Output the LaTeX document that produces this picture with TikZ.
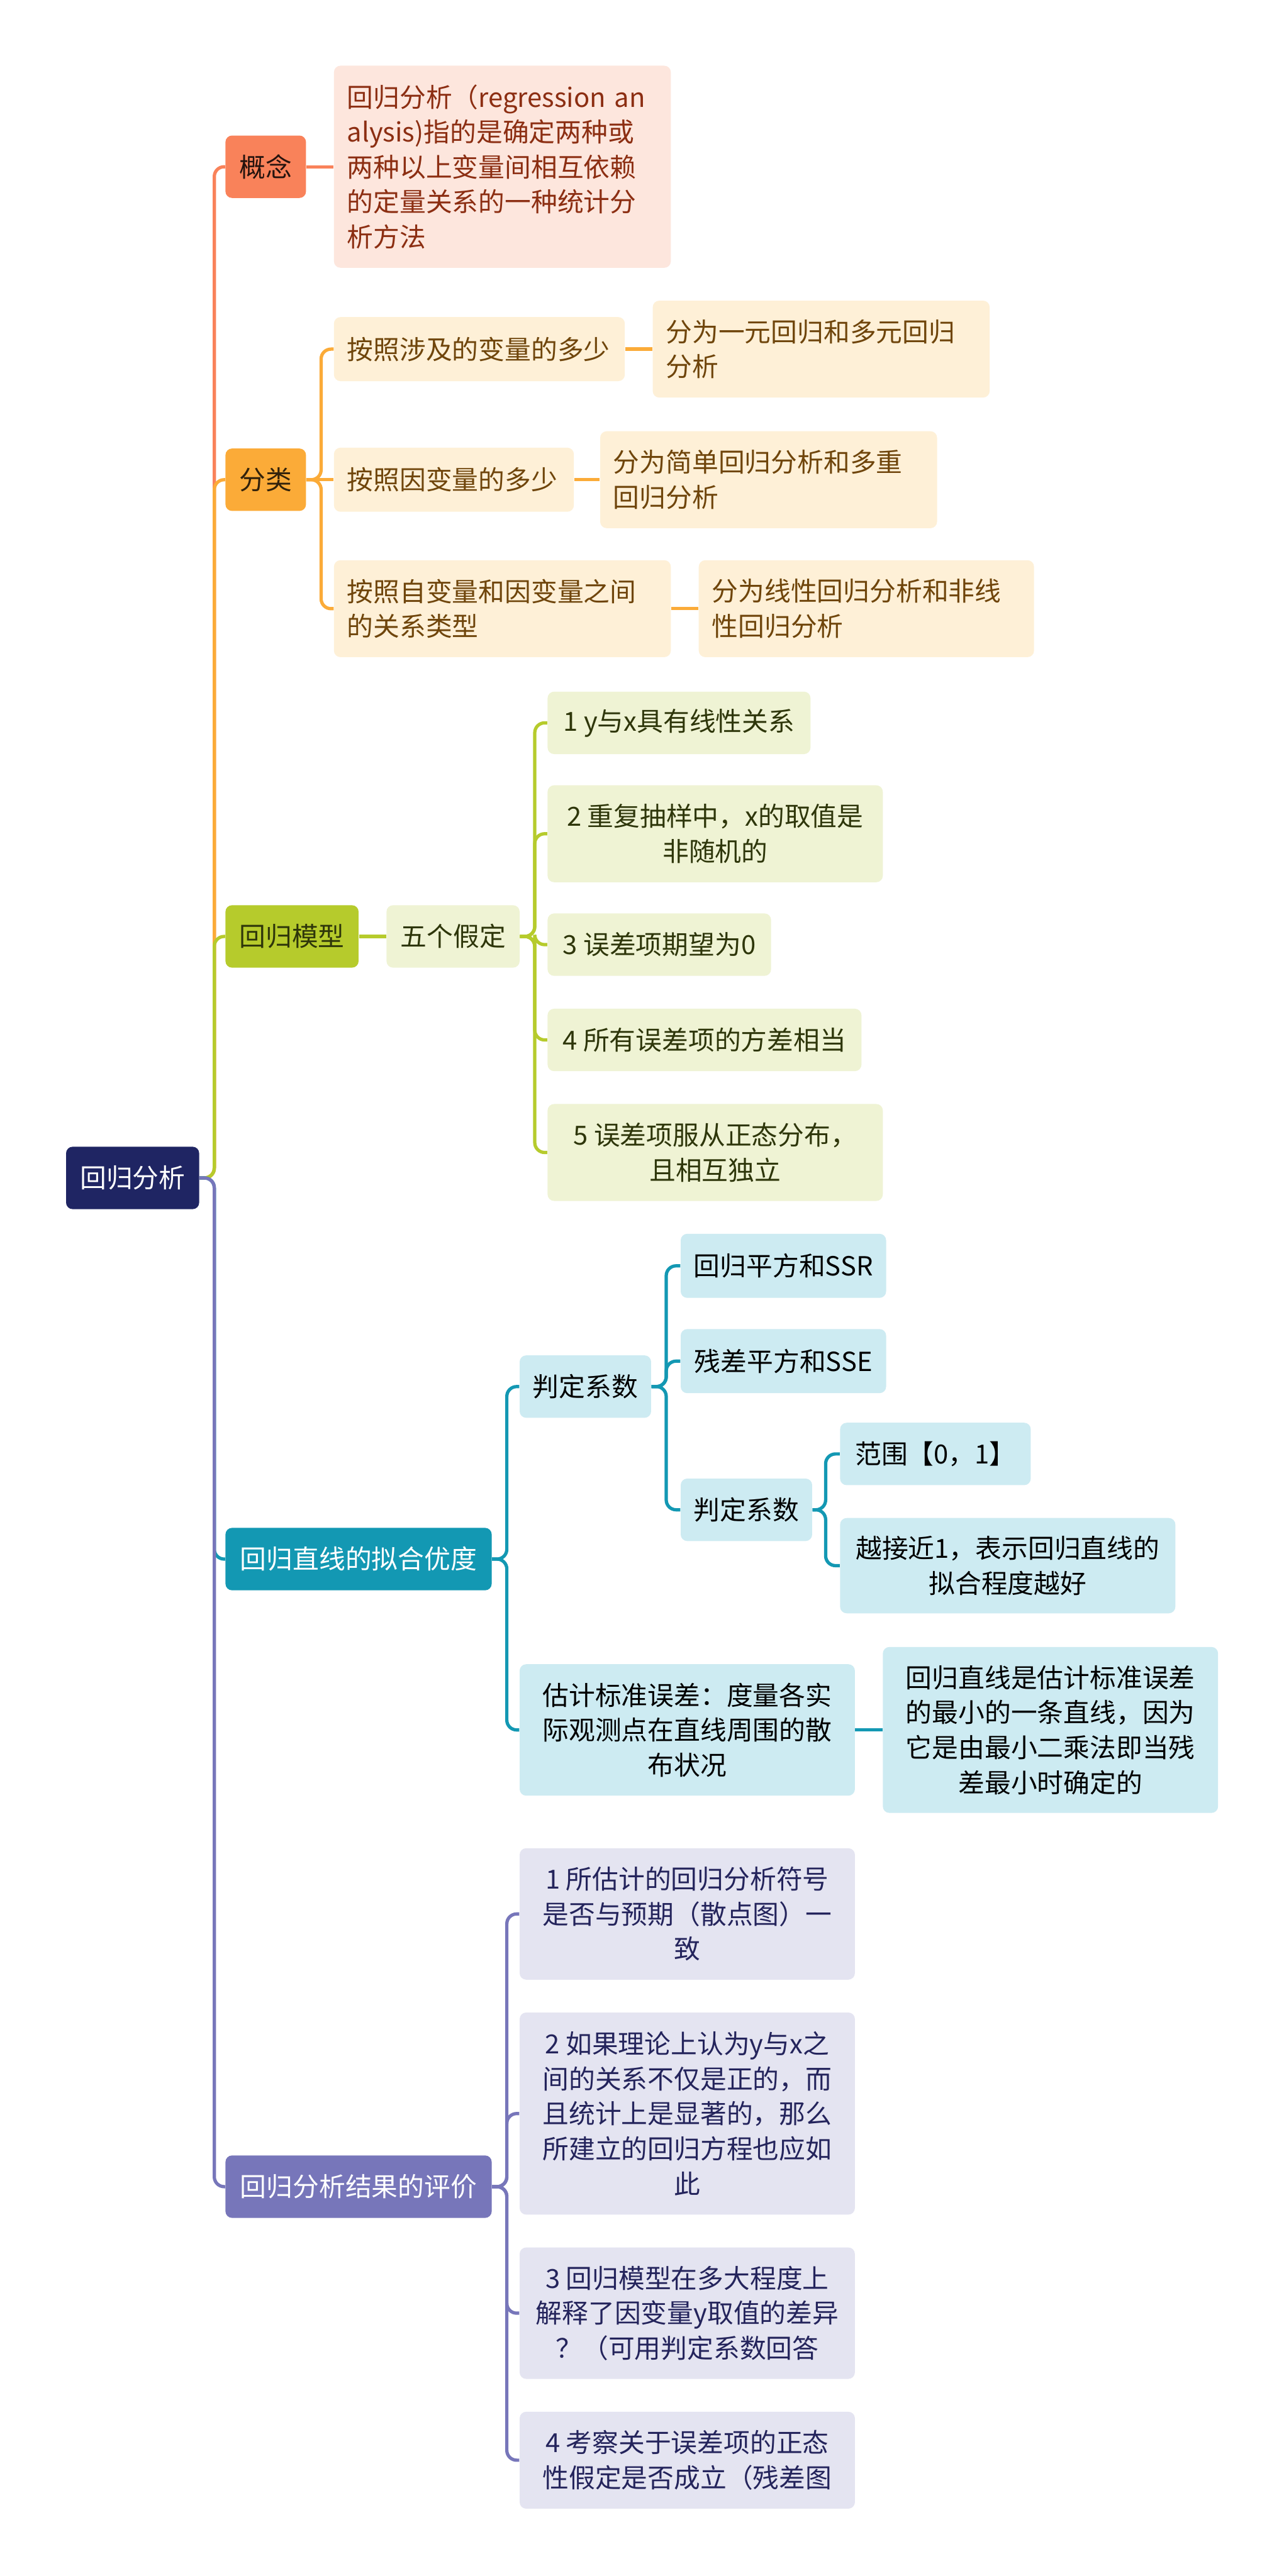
\documentclass[tikz,border=0pt]{standalone}
\usepackage{fontspec}
\setmainfont{Noto Sans CJK SC}
\definecolor{croot}{HTML}{1F2563}
\definecolor{ccoral}{HTML}{F9825A}
\definecolor{ccoralL}{HTML}{FDE6DD}
\definecolor{ccoralT}{HTML}{8C2E12}
\definecolor{corange}{HTML}{FBAB38}
\definecolor{corangeL}{HTML}{FEF0D7}
\definecolor{corangeT}{HTML}{6F450B}
\definecolor{cgreen}{HTML}{B6CB2C}
\definecolor{cgreenL}{HTML}{EFF3D4}
\definecolor{cgreenT}{HTML}{2E360A}
\definecolor{cteal}{HTML}{1398B3}
\definecolor{ctealL}{HTML}{CDEBF2}
\definecolor{cpurple}{HTML}{7776BA}
\definecolor{cpurpleL}{HTML}{E4E4F1}
\definecolor{cpurpleT}{HTML}{24245C}
\tikzset{
  mbox/.style={rounded corners=4pt, align=center, inner sep=0pt, anchor=west,
               font=\fontsize{16}{21.3}\selectfont},
  sz/.style 2 args={minimum width=#1pt, minimum height=#2pt},
  szl/.style 2 args={text width=#1pt, minimum height=#2pt, inner xsep=8pt},
  nroot/.style={mbox, fill=croot, text=white},
  ncoral/.style={mbox, fill=ccoral, text=black!85!ccoral},
  ncoralL/.style={mbox, fill=ccoralL, text=ccoralT, align=left},
  norange/.style={mbox, fill=corange, text=black!80!corange},
  norangeL/.style={mbox, fill=corangeL, text=corangeT, align=left},
  ngreen/.style={mbox, fill=cgreen, text=cgreenT},
  ngreenL/.style={mbox, fill=cgreenL, text=cgreenT},
  nteal/.style={mbox, fill=cteal, text=white},
  ntealL/.style={mbox, fill=ctealL, text=black},
  npurple/.style={mbox, fill=cpurple, text=white},
  npurpleL/.style={mbox, fill=cpurpleL, text=cpurpleT},
  link/.style={line width=2pt, rounded corners=6pt},
}
\begin{document}
\begin{tikzpicture}[x=1pt, y=-1pt]
  \fill[white] (0,0) rectangle (781,1568);
  \useasboundingbox (0,0) rectangle (781,1568);
  % root and main branches
  \node[nroot, sz={81}{38}] (root) at (40,717) {回归分析};
  \node[ncoral, sz={49}{38}] (gn) at (137,101.5) {概念};
  \node[norange, sz={49}{38}] (fl) at (137,292) {分类};
  \node[ngreen, sz={81}{38}] (mx) at (137,570) {回归模型};
  \node[nteal, sz={162}{38}] (nh) at (137,949) {回归直线的拟合优度};
  \node[npurple, sz={162}{38}] (pj) at (137,1331) {回归分析结果的评价};
  % 概念
  \node[ncoralL, szl={189}{123}] (gn1) at (203,101.5)
    {回归分析（regression an\\alysis)指的是确定两种或\\两种以上变量间相互依赖\\的定量关系的一种统计分\\析方法};
  % 分类
  \node[norangeL, szl={161}{39}] (fl1) at (203,212.5) {按照涉及的变量的多少};
  \node[norangeL, szl={130}{39}] (fl2) at (203,292) {按照因变量的多少};
  \node[norangeL, szl={189}{59}] (fl3) at (203,370.5) {按照自变量和因变量之间\\的关系类型};
  \node[norangeL, szl={189}{59}] (fr1) at (397,212.5) {分为一元回归和多元回归\\分析};
  \node[norangeL, szl={189}{59}] (fr2) at (365,292) {分为简单回归分析和多重\\回归分析};
  \node[norangeL, szl={188}{59}] (fr3) at (425,370.5) {分为线性回归分析和非线\\性回归分析};
  % 回归模型
  \node[ngreenL, sz={81}{38}] (mj) at (235,570) {五个假定};
  \node[ngreenL, sz={160}{38}] (mj1) at (333,440) {1 y与x具有线性关系};
  \node[ngreenL, sz={204}{59}] (mj2) at (333,507.5) {2 重复抽样中，x的取值是\\非随机的};
  \node[ngreenL, sz={136}{38}] (mj3) at (333,575) {3 误差项期望为0};
  \node[ngreenL, sz={191}{38}] (mj4) at (333,633) {4 所有误差项的方差相当};
  \node[ngreenL, sz={204}{59}] (mj5) at (333,701.5) {5 误差项服从正态分布，\\且相互独立};
  % 回归直线的拟合优度
  \node[ntealL, sz={80}{38}] (pd) at (316,844) {判定系数};
  \node[ntealL, sz={125}{39}] (pd1) at (414,770.5) {回归平方和SSR};
  \node[ntealL, sz={125}{39}] (pd2) at (414,828.5) {残差平方和SSE};
  \node[ntealL, sz={80}{38}] (pd3) at (414,919) {判定系数};
  \node[ntealL, sz={116}{38}] (pr1) at (511,885) {范围【0，1】};
  \node[ntealL, sz={204}{58}] (pr2) at (511,953) {越接近1，表示回归直线的\\拟合程度越好};
  \node[ntealL, sz={204}{80}] (gj) at (316,1053) {估计标准误差：度量各实\\际观测点在直线周围的散\\布状况};
  \node[ntealL, sz={204}{101}] (gj1) at (537,1053)
    {回归直线是估计标准误差\\的最小的一条直线，因为\\它是由最小二乘法即当残\\差最小时确定的};
  % 回归分析结果的评价
  \node[npurpleL, sz={204}{80}] (pj1) at (316,1165) {1 所估计的回归分析符号\\是否与预期（散点图）一\\致};
  \node[npurpleL, sz={204}{123}] (pj2) at (316,1286.5)
    {2 如果理论上认为y与x之\\间的关系不仅是正的，而\\且统计上是显著的，那么\\所建立的回归方程也应如\\此};
  \node[npurpleL, sz={204}{80}] (pj3) at (316,1408) {3 回归模型在多大程度上\\解释了因变量y取值的差异\\？（可用判定系数回答};
  \node[npurpleL, sz={204}{59}] (pj4) at (316,1497.5) {4 考察关于误差项的正态\\性假定是否成立（残差图};
  % connectors
  \foreach \b/\c in {gn/ccoral, fl/corange, mx/cgreen, nh/cteal, pj/cpurple}
    \draw[link, draw=\c] (\b.west) -| ([xshift=9pt]root.east) [sharp corners] -- (root.east);
  \draw[link, draw=ccoral] (gn.east) -- (gn1.west);
  \foreach \c in {fl1,fl3}
    \draw[link, draw=corange] (\c.west) -| ([xshift=9pt]fl.east) [sharp corners] -- (fl.east);
  \draw[link, draw=corange] (fl.east) -- (fl2.west);
  \foreach \i in {1,2,3}
    \draw[link, draw=corange] (fl\i.east) -- (fr\i.west);
  \draw[link, draw=cgreen] (mx.east) -- (mj.west);
  \foreach \c in {mj1,mj2,mj3,mj4,mj5}
    \draw[link, draw=cgreen] (\c.west) -| ([xshift=9pt]mj.east) [sharp corners] -- (mj.east);
  \foreach \c in {pd,gj}
    \draw[link, draw=cteal] (\c.west) -| ([xshift=9pt]nh.east) [sharp corners] -- (nh.east);
  \foreach \c in {pd1,pd2,pd3}
    \draw[link, draw=cteal] (\c.west) -| ([xshift=9pt]pd.east) [sharp corners] -- (pd.east);
  \foreach \c in {pr1,pr2}
    \draw[link, draw=cteal] (\c.west) -| ([xshift=8pt]pd3.east) [sharp corners] -- (pd3.east);
  \draw[link, draw=cteal] (gj.east) -- (gj1.west);
  \foreach \c in {pj1,pj2,pj3,pj4}
    \draw[link, draw=cpurple] (\c.west) -| ([xshift=9pt]pj.east) [sharp corners] -- (pj.east);
\end{tikzpicture}
\end{document}
